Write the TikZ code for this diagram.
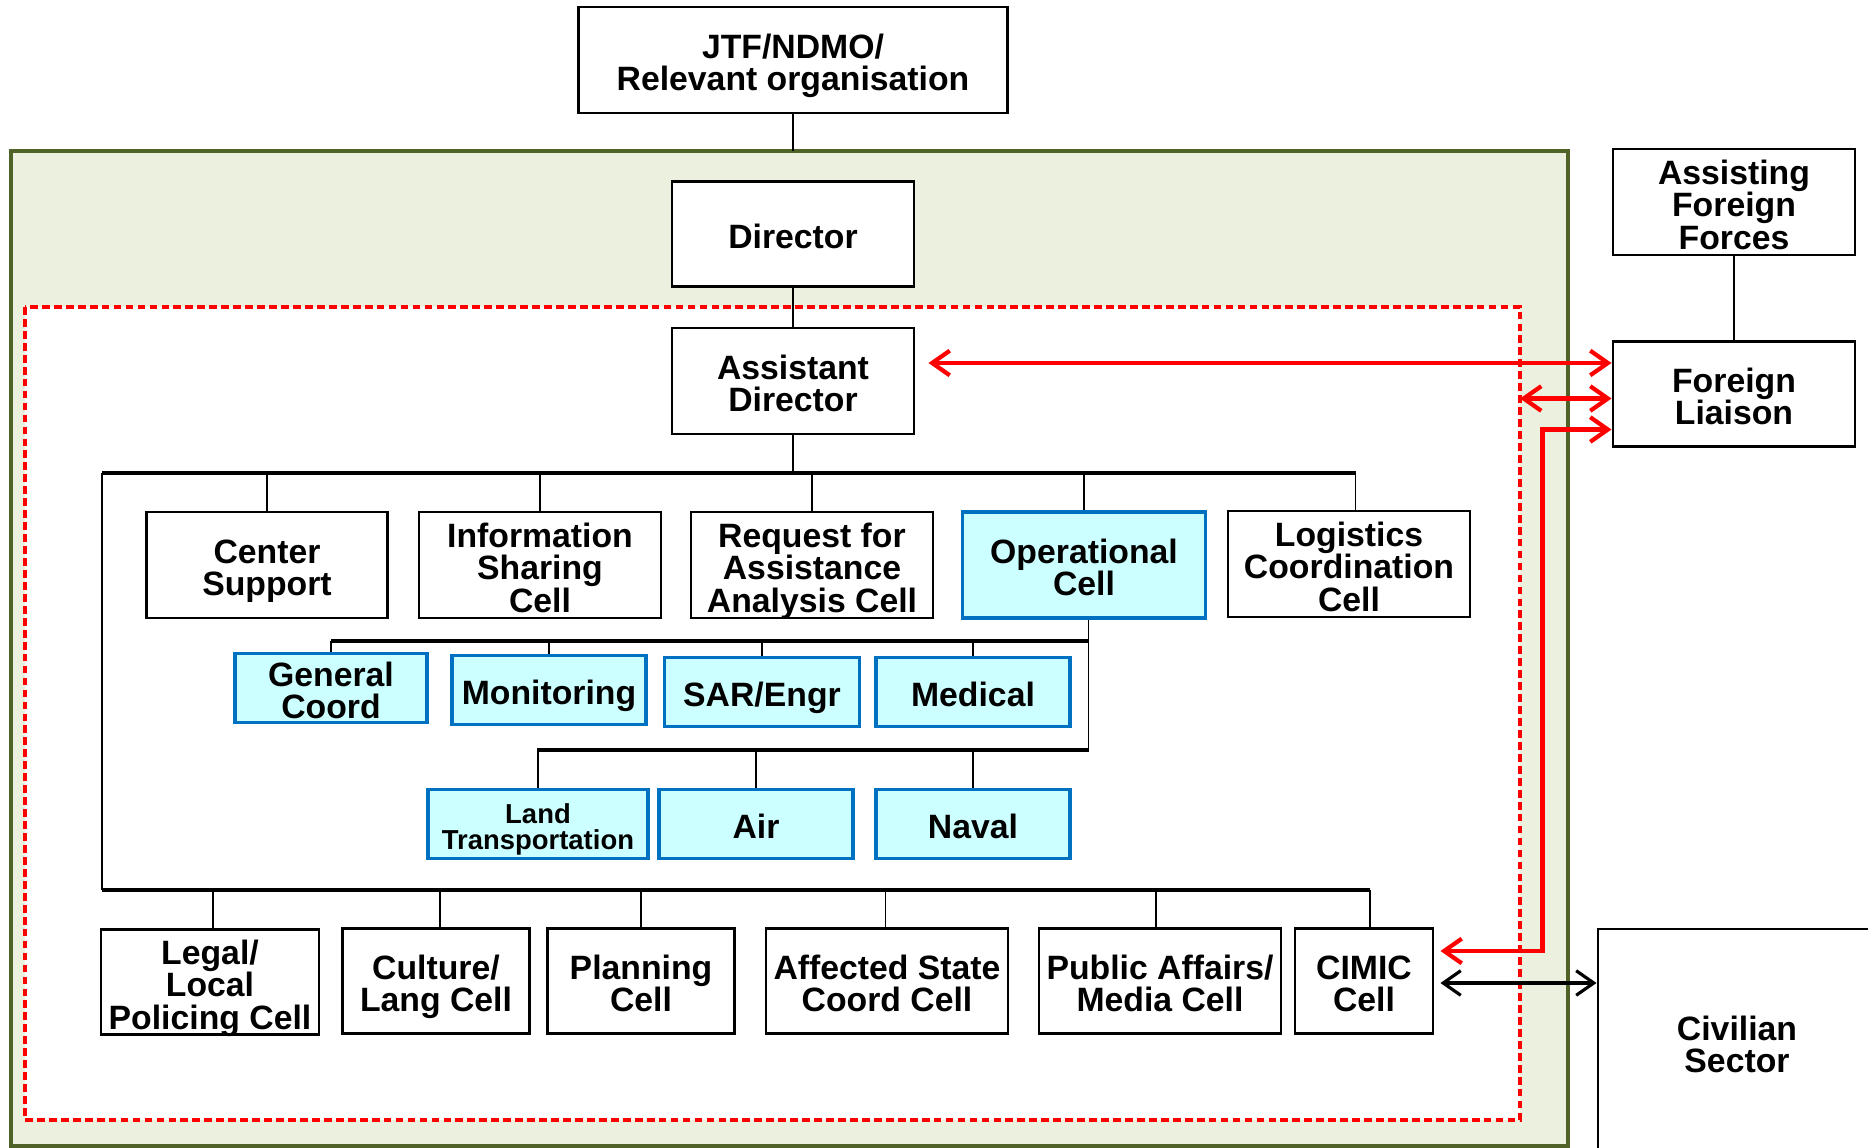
\documentclass[tikz,border=0pt]{standalone}
\usepackage{fontspec}
\setmainfont{Liberation Sans}
\usetikzlibrary{arrows.meta}
\definecolor{hqgreen}{HTML}{EBF1DE}
\definecolor{hqedge}{HTML}{4F6228}
\definecolor{cellblue}{HTML}{0070C0}
\definecolor{celltint}{HTML}{CCFFFF}
\tikzset{
  box/.style={draw, line width=0.8pt, fill=white, align=center, inner sep=0pt, minimum width=2.42cm, minimum height=1.06cm, text height=17.6pt, text depth=0pt, font=\fontsize{9.6}{9.2}\selectfont\bfseries},
  oneline/.style={text height=8.4pt},
  threeline/.style={text height=26.8pt},
  opbox/.style={box, draw=cellblue, fill=celltint, line width=1pt, minimum width=1.94cm, minimum height=0.69cm},
  bus/.style={line width=0.9pt},
  link/.style={line width=0.5pt},
  redlink/.style={draw=red, line width=1.2pt, {Straight Barb[length=5pt,width=7pt]}-{Straight Barb[length=5pt,width=7pt]}},
  civlink/.style={redlink, draw=black, line width=0.9pt}
}
\begin{document}
\begin{tikzpicture}[x=0.01cm, y=-0.01cm]
\useasboundingbox (0,0) rectangle (1868,1148);
\draw [fill=hqgreen, draw=hqedge, line width=1.3pt] (11,151) rectangle (1568,1146);
\draw [fill=white, draw=red, line width=0.9pt, dash pattern=on 2.2pt off 1.2pt] (25,307) rectangle (1520,1120);
\coordinate (hq) at (11,151);
\coordinate (dse) at (1520,1120);
\coordinate (bus1) at (102,473);
\coordinate (bus2) at (102,890);
\coordinate (opbus1) at (331,641);
\coordinate (opbus2) at (537,750);
\node (jtf) at (793,60) [box, minimum width=4.28cm] {JTF/NDMO/\\Relevant organisation};
\node (dir) at (793,234) [box, oneline, minimum height=1.05cm] {Director};
\node (ad) at (793,381) [box] {Assistant\\Director};
\node (cs) at (267,565) [box, minimum width=2.41cm] {Center\\Support};
\node (isc) at (540,565) [box, threeline] {Information\\Sharing\\Cell};
\node (rfa) at (812,565) [box, threeline] {Request for\\Assistance\\Analysis Cell};
\node (op) at (1084,565) [box, draw=cellblue, fill=celltint, line width=1pt, minimum width=2.43cm] {Operational\\Cell};
\node (lcc) at (1349,564) [box, threeline] {Logistics\\Coordination\\Cell};
\node (aff) at (1734,202) [box, threeline] {Assisting\\Foreign\\Forces};
\node (fl) at (1734,394) [box, minimum height=1.05cm] {Foreign\\Liaison};
\node (gc) at (331,688) [opbox, minimum width=1.92cm] {General\\Coord};
\node (mon) at (549,690) [opbox, oneline] {Monitoring};
\node (sar) at (762,692) [opbox, oneline, minimum width=1.95cm] {SAR/Engr};
\node (med) at (973,692) [opbox, oneline] {Medical};
\node (lt) at (538,824) [opbox, minimum width=2.2cm, text height=14.3pt, font=\fontsize{7.8}{7.2}\selectfont\bfseries] {Land\\Transportation};
\node (air) at (756,824) [opbox, oneline] {Air};
\node (nav) at (973,824) [opbox, oneline] {Naval};
\node (legal) at (210,982) [box, threeline, minimum width=2.18cm, minimum height=1.05cm] {Legal/\\Local\\Policing Cell};
\node (cul) at (436,981) [box, minimum width=1.87cm, minimum height=1.05cm] {Culture/\\Lang Cell};
\node (plan) at (641,981) [box, minimum width=1.87cm, minimum height=1.05cm] {Planning\\Cell};
\node (asc) at (887,981) [box, minimum height=1.05cm] {Affected State\\Coord Cell};
\node (pa) at (1160,981) [box, minimum height=1.05cm] {Public Affairs/\\Media Cell};
\node (cimic) at (1364,981) [box, minimum width=1.38cm, minimum height=1.05cm] {CIMIC\\Cell};
\node (civ) at (1737,1042) [box, minimum width=2.78cm, minimum height=2.26cm] {Civilian\\Sector};
\coordinate (lcctap) at ([xshift=0.65mm]lcc.north);
\coordinate (optap) at ([xshift=0.45mm]op.south);
\coordinate (cimictap) at ([xshift=0.6mm]cimic.north);
\draw [link] (jtf.south) -- (jtf.south |- hq);
\draw [link] (dir) -- (ad);
\draw [link] (aff) -- (fl);
\draw [link] (ad.south) -- (ad.south |- bus1);
\draw [bus] (bus1) -- (lcctap |- bus1);
\draw [link] (bus1) -- (bus2);
\foreach \cell in {cs,isc,rfa,op}
  \draw [link] (\cell.north) -- (\cell.north |- bus1);
\draw [link] (lcctap) -- (lcctap |- bus1);
\draw [link] (optap) -- (optap |- opbus2);
\draw [bus] (opbus1) -- (optap |- opbus1);
\draw [bus] (opbus2) -- (optap |- opbus2);
\foreach \cell in {gc,mon,sar,med}
  \draw [link] (\cell.north) -- (\cell.north |- opbus1);
\foreach \cell in {lt,air,nav}
  \draw [link] (\cell.north) -- (\cell.north |- opbus2);
\draw [bus] (bus2) -- (cimictap |- bus2);
\foreach \cell/\dx in {legal/0.3,cul/0.4,plan/0,asc/-0.15,pa/-0.4,cimic/0.6} {
  \coordinate (tap) at ([xshift=\dx mm]\cell.north);
  \draw [link] (tap) -- (tap |- bus2);
}
\coordinate (adout) at ([xshift=1.3mm, yshift=1.8mm]ad.east);
\coordinate (flmid) at ([yshift=-0.45mm]fl.west);
\coordinate (fllow) at ([yshift=-3.55mm]fl.west);
\coordinate (cimicup) at ([xshift=0.6mm, yshift=3mm]cimic.east);
\coordinate (cimicside) at ([xshift=0.6mm, yshift=-0.2mm]cimic.east);
\draw [redlink] (adout) -- (adout -| fl.west);
\draw [redlink] (flmid -| dse) -- (flmid);
\draw [redlink] (cimicup) -| ([xshift=-6.9mm]fllow) -- (fllow);
\draw [civlink] (cimicside) -- (cimicside -| civ.west);
\end{tikzpicture}
\end{document}
